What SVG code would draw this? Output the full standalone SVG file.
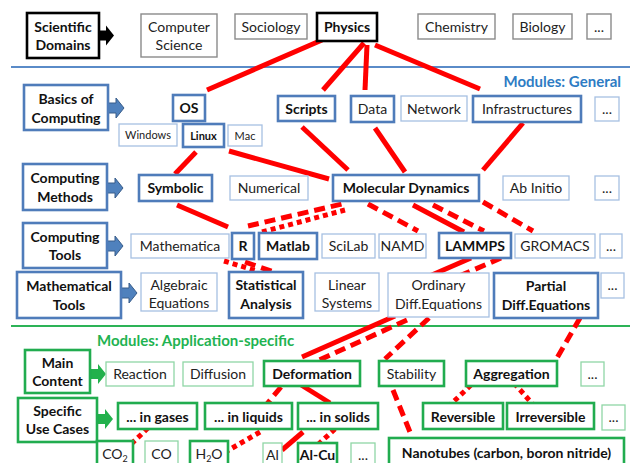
<svg xmlns="http://www.w3.org/2000/svg" width="635" height="463" viewBox="0 0 635 463">
<style>
text{font-family:Lato,"Liberation Sans",sans-serif;font-size:14px;fill:#222;text-anchor:middle}
.b{font-weight:bold;fill:#111}
.s{font-size:11px}
.kb{fill:#fff;stroke:#000;stroke-width:2.6}
.kg{fill:#fff;stroke:#8a8a8a;stroke-width:1.4}
.bb{fill:#fff;stroke:#4f7cba;stroke-width:2.6}
.bt{fill:#fff;stroke:#a7c0e2;stroke-width:1.3}
.gb{fill:#fff;stroke:#21ac4f;stroke-width:2.6}
.gt{fill:#fff;stroke:#90d6a6;stroke-width:1.3}
.c{fill:none;stroke:#ff0000;stroke-width:5}
.d{stroke-dasharray:11 6}
.o{stroke-dasharray:5 4}
</style>
<defs>
<path id="arr" d="M0,-5 H8 V-10 L16,0 L8,10 V5 H0 Z"/>
</defs>
<rect width="635" height="463" fill="#fff"/>
<line x1="11" y1="67" x2="630" y2="67" stroke="#5a8bc8" stroke-width="2"/>
<line x1="11" y1="326" x2="630" y2="326" stroke="#2db357" stroke-width="2"/>
<text x="621" y="87" style="font-weight:bold;font-size:15px;fill:#2e7cc4;text-anchor:end">Modules: General</text>
<text x="97" y="346" style="font-weight:bold;font-size:15px;fill:#1fb352;text-anchor:start">Modules: Application-specific</text>

<g id="connectors">
<line class="c" x1="322" y1="40" x2="207" y2="90"/>
<line class="c" x1="364" y1="43" x2="323" y2="90"/>
<line class="c" x1="367" y1="45" x2="365" y2="90"/>
<line class="c" x1="375" y1="45" x2="480" y2="89"/>
<line class="c" x1="196" y1="152" x2="175" y2="174"/>
<line class="c" x1="229" y1="151" x2="329" y2="179"/>
<line class="c" x1="302" y1="127" x2="348" y2="170"/>
<line class="c" x1="375" y1="128" x2="405" y2="172"/>
<line class="c" x1="523" y1="123" x2="483" y2="170"/>
<line class="c" x1="177" y1="205" x2="228" y2="227"/>
<line class="c d" x1="248" y1="226" x2="342" y2="204"/>
<line class="c o" x1="262" y1="232" x2="345" y2="210"/>
<line class="c d" x1="368" y1="204" x2="418" y2="231"/>
<line class="c" x1="413" y1="205" x2="464" y2="232"/>
<line class="c d" x1="433" y1="205" x2="484" y2="231"/>
<line class="c d" x1="483" y1="202" x2="533" y2="231"/>
<line class="c o" x1="224" y1="261" x2="257" y2="271"/>
<line class="c d" x1="245" y1="262" x2="277" y2="273"/>
<line class="c" x1="471" y1="258" x2="418" y2="281"/>
<line class="c d" x1="501" y1="258" x2="448" y2="281"/>
<line class="c" x1="395" y1="316" x2="302" y2="357"/>
<line class="c d" x1="407" y1="320" x2="315" y2="362"/>
<line class="c d" x1="429" y1="318" x2="385" y2="359"/>
<line class="c d" x1="580" y1="318" x2="557" y2="358"/>
<line class="c d" x1="281" y1="387" x2="266" y2="405"/>
<line class="c" x1="298" y1="383" x2="330" y2="403"/>
<line class="c o" x1="260" y1="432" x2="227" y2="451"/>
<line class="c" x1="303" y1="432" x2="282" y2="450"/>
<line class="c o" x1="335" y1="429" x2="312" y2="450"/>
<line class="c o" x1="148" y1="428" x2="127" y2="448"/>
<line class="c d" x1="393" y1="390" x2="412" y2="437"/>
<line class="c o" x1="471" y1="385" x2="448" y2="407"/>
<line class="c o" x1="514" y1="383" x2="537" y2="409"/>
</g>

<g id="arrows">
<use href="#arr" x="98" y="35.5" fill="#000"/>
<use href="#arr" x="108" y="108" fill="#4f81bd" stroke="#385d8a" stroke-width="1"/>
<use href="#arr" x="107" y="188" fill="#4f81bd" stroke="#385d8a" stroke-width="1"/>
<use href="#arr" x="107" y="246" fill="#4f81bd" stroke="#385d8a" stroke-width="1"/>
<use href="#arr" x="121" y="293" fill="#4f81bd" stroke="#385d8a" stroke-width="1"/>
<use href="#arr" x="90" y="374" fill="#22b14c"/>
<use href="#arr" x="97" y="419" fill="#22b14c"/>
</g>

<g id="n-scientific-domains"><rect class="kb" x="27" y="13" width="72" height="45"/><text class="b" x="63" y="32">Scientific</text><text class="b" x="63" y="50">Domains</text></g>
<g id="n-computer-science"><rect class="kg" x="141" y="14" width="76" height="43"/><text x="179" y="32">Computer</text><text x="179" y="50">Science</text></g>
<g id="n-sociology"><rect class="kg" x="235" y="14" width="72" height="25"/><text x="271" y="31.5">Sociology</text></g>
<g id="n-physics"><rect class="kb" x="317" y="13" width="60" height="28"/><text class="b" x="347" y="32">Physics</text></g>
<g id="n-chemistry"><rect class="kg" x="418" y="14" width="77" height="25"/><text x="456.5" y="31.5">Chemistry</text></g>
<g id="n-biology"><rect class="kg" x="513" y="14" width="59" height="25"/><text x="542.5" y="31.5">Biology</text></g>
<g id="n-domains-more"><rect class="kg" x="587" y="14" width="24" height="25"/><text x="599" y="31.5">...</text></g>

<g id="n-basics"><rect class="bb" x="24" y="85" width="84" height="45"/><text class="b" x="66" y="104">Basics of</text><text class="b" x="66" y="123">Computing</text></g>
<g id="n-os"><rect class="bb" x="173" y="95" width="32" height="26"/><text class="b" x="189" y="113">OS</text></g>
<g id="n-windows"><rect class="bt" x="119" y="124" width="58" height="22"/><text class="s" x="148" y="139">Windows</text></g>
<g id="n-linux"><rect class="bb" x="183" y="124" width="41" height="23"/><text class="s b" x="203.5" y="139.5">Linux</text></g>
<g id="n-mac"><rect class="bt" x="228" y="125" width="34" height="21"/><text class="s" x="245" y="139.5">Mac</text></g>
<g id="n-scripts"><rect class="bb" x="278" y="96" width="57" height="25"/><text class="b" x="306.5" y="113.5">Scripts</text></g>
<g id="n-data"><rect class="bb" x="351" y="96" width="43" height="26"/><text x="372.5" y="114">Data</text></g>
<g id="n-network"><rect class="bt" x="401" y="96" width="66" height="25"/><text x="434" y="113.5">Network</text></g>
<g id="n-infrastructures"><rect class="bb" x="473" y="96" width="108" height="26"/><text x="527" y="114">Infrastructures</text></g>
<g id="n-basics-more"><rect class="bt" x="595" y="97" width="24" height="24"/><text x="607" y="113.5">...</text></g>

<g id="n-computing-methods"><rect class="bb" x="23" y="164" width="84" height="46"/><text class="b" x="65" y="183">Computing</text><text class="b" x="65" y="202">Methods</text></g>
<g id="n-symbolic"><rect class="bb" x="139" y="175" width="73" height="26"/><text class="b" x="175.5" y="193">Symbolic</text></g>
<g id="n-numerical"><rect class="bt" x="230" y="176" width="78" height="24"/><text x="269" y="193">Numerical</text></g>
<g id="n-md"><rect class="bb" x="333" y="175" width="146" height="26"/><text class="b" x="406" y="193">Molecular Dynamics</text></g>
<g id="n-abinitio"><rect class="bt" x="503" y="176" width="66" height="24"/><text x="536" y="193">Ab Initio</text></g>
<g id="n-methods-more"><rect class="bt" x="595" y="176" width="24" height="24"/><text x="607" y="193">...</text></g>

<g id="n-computing-tools"><rect class="bb" x="23" y="223" width="84" height="45"/><text class="b" x="65" y="242">Computing</text><text class="b" x="65" y="260">Tools</text></g>
<g id="n-mathematica"><rect class="bt" x="131" y="234" width="98" height="24"/><text x="180" y="251">Mathematica</text></g>
<g id="n-r"><rect class="bb" x="232" y="233" width="22" height="26"/><text class="b" x="243" y="251">R</text></g>
<g id="n-matlab"><rect class="bb" x="259" y="233" width="58" height="26"/><text class="b" x="288" y="251">Matlab</text></g>
<g id="n-scilab"><rect class="bt" x="322" y="234" width="53" height="24"/><text x="348.5" y="251">SciLab</text></g>
<g id="n-namd"><rect class="bt" x="379" y="234" width="47" height="24"/><text x="402.5" y="251">NAMD</text></g>
<g id="n-lammps"><rect class="bb" x="439" y="233" width="72" height="25"/><text class="b" x="475" y="251">LAMMPS</text></g>
<g id="n-gromacs"><rect class="bt" x="515" y="234" width="80" height="24"/><text x="555" y="251">GROMACS</text></g>
<g id="n-tools-more"><rect class="bt" x="600" y="234" width="22" height="24"/><text x="611" y="251">...</text></g>

<g id="n-mathematical-tools"><rect class="bb" x="17" y="272" width="104" height="46"/><text class="b" x="69" y="291">Mathematical</text><text class="b" x="69" y="310">Tools</text></g>
<g id="n-algebraic"><rect class="bt" x="141" y="273" width="76" height="38"/><text x="179" y="290">Algebraic</text><text x="179" y="308">Equations</text></g>
<g id="n-statistical"><rect class="bb" x="229" y="272" width="74" height="46"/><text class="b" x="266" y="290">Statistical</text><text class="b" x="266" y="309">Analysis</text></g>
<g id="n-linear"><rect class="bt" x="315" y="273" width="64" height="38"/><text x="347" y="290">Linear</text><text x="347" y="308">Systems</text></g>
<g id="n-ode"><rect class="bt" x="388" y="273" width="101" height="44"/><text x="438.5" y="290">Ordinary</text><text x="438.5" y="309">Diff.Equations</text></g>
<g id="n-pde"><rect class="bb" x="494" y="273" width="104" height="45"/><text class="b" x="546" y="291">Partial</text><text class="b" x="546" y="310">Diff.Equations</text></g>
<g id="n-math-more"><rect class="bt" x="601" y="273" width="23" height="25"/><text x="612.5" y="290">...</text></g>

<g id="n-main-content"><rect class="gb" x="25" y="350" width="65" height="43"/><text class="b" x="57.5" y="368">Main</text><text class="b" x="57.5" y="386">Content</text></g>
<g id="n-reaction"><rect class="gt" x="106" y="362" width="68" height="24"/><text x="140" y="379">Reaction</text></g>
<g id="n-diffusion"><rect class="gt" x="183" y="362" width="70" height="24"/><text x="218" y="379">Diffusion</text></g>
<g id="n-deformation"><rect class="gb" x="264" y="361" width="96" height="25"/><text class="b" x="312" y="379">Deformation</text></g>
<g id="n-stability"><rect class="gb" x="379" y="361" width="65" height="25"/><text x="411.5" y="379">Stability</text></g>
<g id="n-aggregation"><rect class="gb" x="466" y="361" width="91" height="25"/><text class="b" x="511.5" y="379">Aggregation</text></g>
<g id="n-content-more"><rect class="gt" x="581" y="362" width="23" height="24"/><text x="592.5" y="379">...</text></g>

<g id="n-use-cases"><rect class="gb" x="18" y="398" width="79" height="44"/><text class="b" x="57.5" y="416">Specific</text><text class="b" x="57.5" y="434">Use Cases</text></g>
<g id="n-gases"><rect class="gb" x="118" y="403" width="79" height="26"/><text class="b" x="157.5" y="421.5">... in gases</text></g>
<g id="n-liquids"><rect class="gb" x="205" y="403" width="87" height="26"/><text class="b" x="248.5" y="421.5">... in liquids</text></g>
<g id="n-solids"><rect class="gb" x="298" y="403" width="80" height="26"/><text class="b" x="338" y="421.5">... in solids</text></g>
<g id="n-reversible"><rect class="gb" x="423" y="403" width="80" height="26"/><text class="b" x="463" y="421.5">Reversible</text></g>
<g id="n-irreversible"><rect class="gb" x="507" y="403" width="87" height="26"/><text class="b" x="550.5" y="421.5">Irreversible</text></g>
<g id="n-cases-more"><rect class="gt" x="602" y="405" width="23" height="25"/><text x="613.5" y="422">...</text></g>

<g id="n-co2"><rect class="gb" x="97" y="441" width="36" height="30"/><text x="115" y="459">CO<tspan font-size="9" dy="3">2</tspan></text></g>
<g id="n-co"><rect class="gt" x="145" y="441" width="33" height="30"/><text x="161.5" y="459">CO</text></g>
<g id="n-h2o"><rect class="gb" x="190" y="441" width="38" height="30"/><text x="209" y="459">H<tspan font-size="9" dy="3">2</tspan><tspan dy="-3">O</tspan></text></g>
<g id="n-al"><rect class="gt" x="263" y="443" width="19" height="30"/><text x="272.5" y="460">Al</text></g>
<g id="n-alcu"><rect class="gb" x="298" y="443" width="39" height="30"/><text class="b" x="317.5" y="460">Al-Cu</text></g>
<g id="n-materials-more"><rect class="gt" x="351" y="443" width="24" height="30"/><text x="363" y="460">...</text></g>
<g id="n-nanotubes"><rect class="gb" x="389" y="438" width="235" height="30"/><text class="b" x="506.5" y="458">Nanotubes (carbon, boron nitride)</text></g>
</svg>
